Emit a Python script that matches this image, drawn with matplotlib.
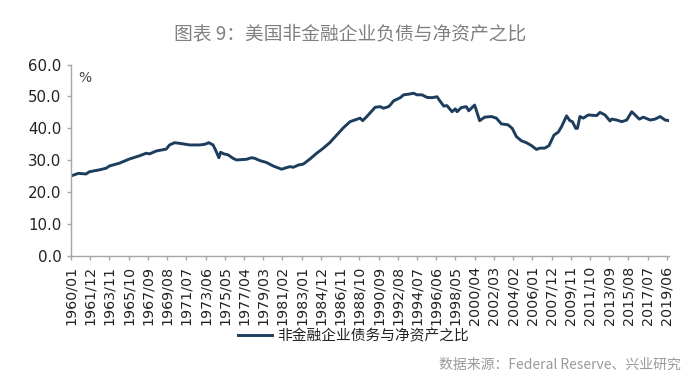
import matplotlib
matplotlib.use("Agg")
import matplotlib.pyplot as plt

title = "图表 9：美国非金融企业负债与净资产之比"
series_name = "非金融企业债务与净资产之比"
source = "数据来源：Federal Reserve、兴业研究"
unit = "%"

dates = [
    "1960/01", "1960/10", "1961/07", "1961/11", "1962/11", "1963/07", "1963/11",
    "1964/11", "1965/11", "1966/11", "1967/07", "1967/11", "1968/07", "1969/07",
    "1969/11", "1970/05", "1970/11", "1971/11", "1972/11", "1973/05", "1973/10",
    "1974/03", "1974/06", "1974/10", "1974/12", "1975/04", "1975/09", "1976/03",
    "1976/07", "1977/07", "1978/01", "1978/05", "1978/11", "1979/07", "1980/03",
    "1981/01", "1981/07", "1981/11", "1982/03", "1982/09", "1983/03", "1983/11",
    "1984/07", "1985/03", "1985/11", "1986/07", "1987/03", "1987/11", "1988/11",
    "1989/02", "1989/07", "1990/05", "1990/11", "1991/03", "1991/09", "1991/11",
    "1992/03", "1992/11", "1993/03", "1993/09", "1994/03", "1994/07", "1995/01",
    "1995/07", "1996/01", "1996/07", "1996/11", "1997/03", "1997/07", "1998/01",
    "1998/05", "1998/07", "1998/12", "1999/06", "1999/09", "2000/04", "2000/10",
    "2001/04", "2001/12", "2002/06", "2002/12", "2003/08", "2004/01", "2004/06",
    "2004/12", "2005/06", "2005/12", "2006/06", "2006/10", "2007/04", "2007/09",
    "2008/03", "2008/08", "2008/12", "2009/06", "2009/10", "2010/01", "2010/05",
    "2010/07", "2010/10", "2011/02", "2011/08", "2012/06", "2012/10", "2013/04",
    "2013/10", "2013/12", "2014/06", "2014/12", "2015/06", "2015/12", "2016/04",
    "2016/09", "2017/02", "2017/10", "2018/04", "2018/10", "2019/04", "2019/09",
]
values = [
    25.1, 25.9, 25.7, 26.4, 27.0, 27.5, 28.2,
    29.1, 30.4, 31.4, 32.2, 32.0, 32.9, 33.5,
    34.8, 35.5, 35.3, 34.8, 34.8, 35.0, 35.5,
    34.8, 33.2, 30.8, 32.5, 32.0, 31.7, 30.6,
    30.1, 30.3, 30.8, 30.6, 29.9, 29.3, 28.2,
    27.2, 27.7, 28.0, 27.8, 28.5, 28.8, 30.4,
    32.2, 33.8, 35.6, 37.9, 40.2, 42.1, 43.2,
    42.4, 43.7, 46.6, 46.8, 46.3, 46.8, 47.3,
    48.6, 49.6, 50.5, 50.7, 51.0, 50.5, 50.5,
    49.7, 49.6, 49.9, 48.4, 47.0, 47.1, 45.2,
    46.1, 45.2, 46.5, 46.8, 45.5, 47.3, 42.4,
    43.5, 43.7, 43.2, 41.4, 41.1, 40.0, 37.4,
    36.1, 35.5, 34.6, 33.4, 33.8, 33.8, 34.6,
    37.9, 38.8, 40.5, 43.9, 42.4, 42.1, 40.0,
    40.0, 43.7, 43.2, 44.2, 44.0, 45.0, 44.2,
    42.3, 42.9, 42.6, 42.1, 42.6, 45.2, 44.2,
    42.9, 43.5, 42.6, 42.9, 43.7, 42.6, 42.4,
]
tick_labels = [
    "1960/01", "1961/12", "1963/11", "1965/10", "1967/09", "1969/08", "1971/07",
    "1973/06", "1975/05", "1977/04", "1979/03", "1981/02", "1983/01", "1984/12",
    "1986/11", "1988/10", "1990/09", "1992/08", "1994/07", "1996/06", "1998/05",
    "2000/04", "2002/03", "2004/02", "2006/01", "2007/12", "2009/11", "2011/10",
    "2013/09", "2015/08", "2017/07", "2019/06",
]
y_ticks = [0, 10, 20, 30, 40, 50, 60]


def month_index(s):
    y, m = s.split("/")
    return (int(y) - 1960) * 12 + int(m) - 1


x = [month_index(d) for d in dates]
tick_pos = [month_index(t) for t in tick_labels]

plt.rcParams["font.family"] = ["Noto Sans CJK SC", "DejaVu Sans"]

fig = plt.figure(figsize=(7.0, 3.81), dpi=100)
ax = fig.add_axes([0.1014, 0.328, 0.8548, 0.5027])

line_color = "#1d3d5c"
ax.plot(x, values, color=line_color, lw=2.1, solid_joinstyle="round",
        label=series_name)

ax.set_xlim(0, month_index("2019/09"))
ax.set_ylim(0, 60)

spine_c = "#a6a6a6"
for s in ["top", "right"]:
    ax.spines[s].set_visible(False)
for s in ["left", "bottom"]:
    ax.spines[s].set_color(spine_c)
    ax.spines[s].set_linewidth(1.0)

ax.set_yticks(y_ticks)
ax.set_yticklabels([f"{v:.1f}" for v in y_ticks], family="DejaVu Sans",
                   fontsize=10.8, color="#222222")
ax.set_xticks(tick_pos)
ax.set_xticklabels(tick_labels, rotation=90, family="DejaVu Sans",
                   fontsize=10.3, color="#222222")
ax.tick_params(axis="both", direction="out", length=3, width=1.0,
               color=spine_c)
ax.tick_params(axis="y", pad=4)
ax.tick_params(axis="x", pad=4)

ax.text(0.012, 0.93, unit, transform=ax.transAxes, fontsize=10,
        color="#444444", family="DejaVu Sans", va="center", ha="left")

fig.text(0.5, 0.912, title, ha="center", va="center", fontsize=13.5,
         color="#808080")

leg = fig.legend(loc="center", bbox_to_anchor=(0.505, 0.118), frameon=False,
                 fontsize=10.6, handlelength=2.3, handletextpad=0.4)
for t in leg.get_texts():
    t.set_color("#222222")

fig.text(0.972, 0.042, source, ha="right", va="center", fontsize=10,
         color="#9a9a9a")

fig.savefig("out.png", dpi=100)
